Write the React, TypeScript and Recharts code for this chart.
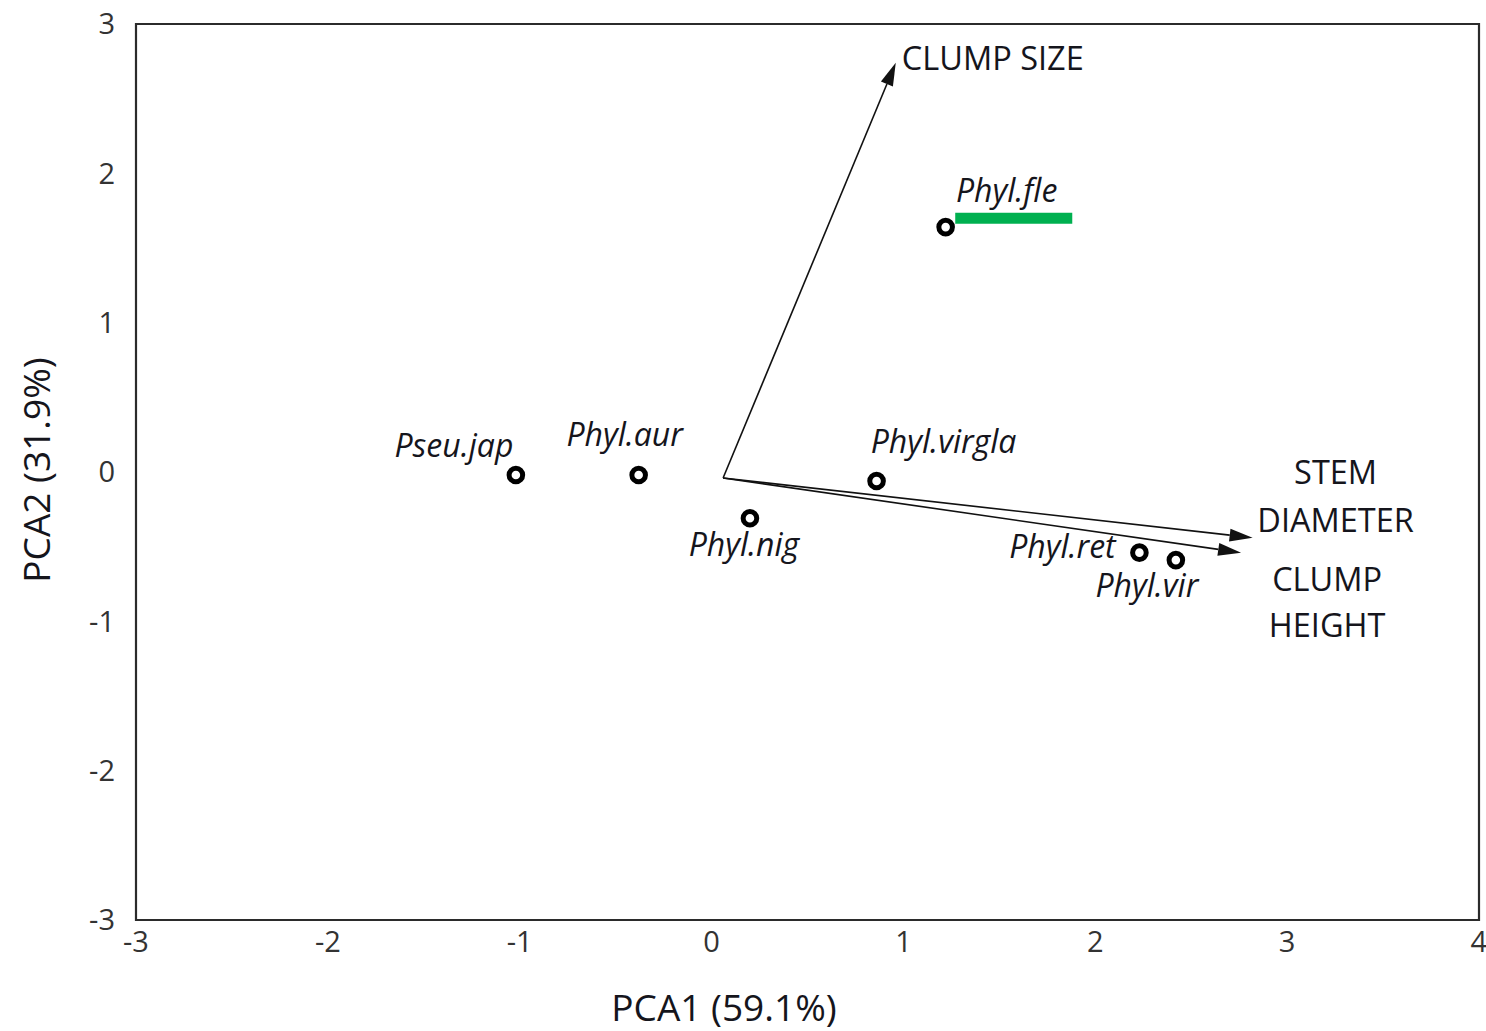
import React from 'react';
import { ScatterChart, Scatter, XAxis, YAxis, ReferenceArea, ReferenceLine, Label } from 'recharts';

if (typeof document !== 'undefined') document.body.style.margin = '0';

const FONT = '"Open Sans", "DejaVu Sans", sans-serif';
const INK = '#15151c';

// axis ticks
const xTicks = [-3, -2, -1, 0, 1, 2, 3, 4];
const yTicks = [-3, -2, -1, 0, 1, 2, 3];

// species scores
const speciesNames = ['Pseu.jap', 'Phyl.aur', 'Phyl.nig', 'Phyl.virgla', 'Phyl.fle', 'Phyl.ret', 'Phyl.vir'];
const pca1Scores = [-1.02, -0.38, 0.2, 0.86, 1.22, 2.23, 2.42];
const pca2Scores = [-0.02, -0.02, -0.31, -0.06, 1.64, -0.54, -0.59];

// trait loading vectors
const vectorOrigin = { pc1: 0.06, pc2: -0.04 };
const vectorNames = ['CLUMP SIZE', 'STEM DIAMETER', 'CLUMP HEIGHT'];
const vectorPca1 = [0.96, 2.82, 2.76];
const vectorPca2 = [2.74, -0.44, -0.54];

// green highlight under Phyl.fle
const highlightPca1 = [1.27, 1.88];
const highlightPca2 = 1.7;

const speciesData = speciesNames.map((name, i) => ({ name, pc1: pca1Scores[i], pc2: pca2Scores[i] }));

// label placement (pixels, relative to the point)
const speciesLabelPos: Record<string, { dx: number; dy: number }> = {
  'Pseu.jap': { dx: -62, dy: -18 },
  'Phyl.aur': { dx: -14, dy: -29 },
  'Phyl.nig': { dx: -6, dy: 38 },
  'Phyl.virgla': { dx: 67, dy: -28 },
  'Phyl.fle': { dx: 61, dy: -25 },
  'Phyl.ret': { dx: -77, dy: 5 },
  'Phyl.vir': { dx: -29, dy: 37 },
};

const vectorLabelPos: Record<string, { lines: string[]; dx: number; dy: number[] }> = {
  'CLUMP SIZE': { lines: ['CLUMP SIZE'], dx: 97, dy: [7] },
  'STEM DIAMETER': { lines: ['STEM', 'DIAMETER'], dx: 83, dy: [-54, -6] },
  'CLUMP HEIGHT': { lines: ['CLUMP', 'HEIGHT'], dx: 86, dy: [38, 84] },
};

function SpeciesMark(props: any) {
  const { cx, cy, payload } = props;
  const pos = speciesLabelPos[payload.name];
  return (
    <g>
      <circle cx={cx} cy={cy} r={6.8} fill="#fff" stroke="#000" strokeWidth={5} />
      <text
        x={cx + pos.dx}
        y={cy + pos.dy}
        textAnchor="middle"
        fontFamily={FONT}
        fontStyle="italic"
        fontSize={32}
        fill={INK}
      >
        {payload.name}
      </text>
    </g>
  );
}

function makeArrow(name: string) {
  return (props: any) => {
    const { x1, y1, x2, y2 } = props;
    const ang = Math.atan2(y2 - y1, x2 - x1);
    const len = 23;
    const half = 6.5;
    const bx = x2 - len * Math.cos(ang);
    const by = y2 - len * Math.sin(ang);
    const px = -Math.sin(ang) * half;
    const py = Math.cos(ang) * half;
    const lab = vectorLabelPos[name];
    return (
      <g>
        <line x1={x1} y1={y1} x2={bx} y2={by} stroke="#111" strokeWidth={1.6} />
        <polygon points={`${x2},${y2} ${bx + px},${by + py} ${bx - px},${by - py}`} fill="#111" />
        {lab.lines.map((t, i) => (
          <text
            key={t}
            x={x2 + lab.dx}
            y={y2 + lab.dy[i]}
            textAnchor="middle"
            fontFamily={FONT}
            fontSize={32.5}
            fill={INK}
          >
            {t}
          </text>
        ))}
      </g>
    );
  };
}

export default function App() {
  return (
    <div style={{ width: 1486, height: 1031, background: '#fff' }}>
      <ScatterChart width={1486} height={1031} margin={{ top: 24, right: 7, bottom: 0, left: 0 }}>
        <XAxis
          type="number"
          dataKey="pc1"
          domain={[-3, 4]}
          ticks={xTicks}
          allowDataOverflow
          height={111}
          axisLine={false}
          tickLine={false}
          tickMargin={5}
          tick={{ fontSize: 29, fill: '#333', fontFamily: FONT }}
        >
          <Label
            content={({ viewBox }: any) => (
              <text
                x={viewBox.x + 588}
                y={viewBox.y + 101}
                textAnchor="middle"
                fontFamily={FONT}
                fontSize={37}
                fill={INK}
              >
                PCA1 (59.1%)
              </text>
            )}
          />
        </XAxis>
        <YAxis
          type="number"
          dataKey="pc2"
          domain={[-3, 3]}
          ticks={yTicks}
          allowDataOverflow
          width={136}
          axisLine={false}
          tickLine={false}
          tickMargin={15}
          tick={{ fontSize: 29, fill: '#333', fontFamily: FONT }}
        >
          <Label
            content={({ viewBox }: any) => {
              const x = viewBox.x + 50;
              const y = viewBox.y + viewBox.height / 2 - 2;
              return (
                <text
                  x={x}
                  y={y}
                  transform={`rotate(-90 ${x} ${y})`}
                  textAnchor="middle"
                  fontFamily={FONT}
                  fontSize={37}
                  fill={INK}
                >
                  PCA2 (31.9%)
                </text>
              );
            }}
          />
        </YAxis>
        <ReferenceArea x1={-3} x2={4} y1={-3} y2={3} fill="none" stroke="#2b2b2b" strokeWidth={2.2} />
        <ReferenceLine
          segment={[
            { x: highlightPca1[0], y: highlightPca2 },
            { x: highlightPca1[1], y: highlightPca2 },
          ]}
          stroke="#00b050"
          strokeWidth={11}
        />
        {vectorNames.map((name, i) => (
          <ReferenceLine
            key={name}
            segment={[
              { x: vectorOrigin.pc1, y: vectorOrigin.pc2 },
              { x: vectorPca1[i], y: vectorPca2[i] },
            ]}
            shape={makeArrow(name)}
          />
        ))}
        <Scatter data={speciesData} isAnimationActive={false} shape={(p: any) => <SpeciesMark {...p} />} />
      </ScatterChart>
    </div>
  );
}
